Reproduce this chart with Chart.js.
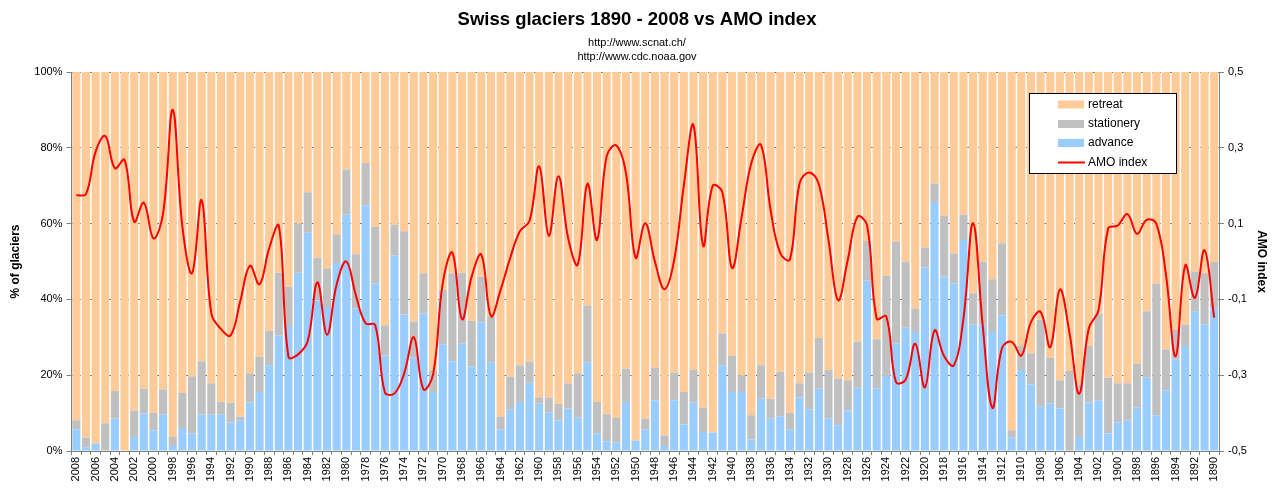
<!DOCTYPE html>
<html>
<head>
<meta charset="utf-8">
<script src="https://cdn.jsdelivr.net/npm/chart.js@4.4.0/dist/chart.umd.min.js"></script>
<style>
html,body{margin:0;padding:0;background:#fff;}
#wrap{width:1274px;height:488px;}
</style>
</head>
<body>
<div id="wrap"><canvas id="c" width="1274" height="488"></canvas></div>
<script>
const years = [2008,2007,2006,2005,2004,2003,2002,2001,2000,1999,1998,1997,1996,1995,1994,1993,1992,1991,1990,1989,
1988,1987,1986,1985,1984,1983,1982,1981,1980,1979,1978,1977,1976,1975,1974,1973,1972,1971,1970,1969,
1968,1967,1966,1965,1964,1963,1962,1961,1960,1959,1958,1957,1956,1955,1954,1953,1952,1951,1950,1949,
1948,1947,1946,1945,1944,1943,1942,1941,1940,1939,1938,1937,1936,1935,1934,1933,1932,1931,1930,1929,
1928,1927,1926,1925,1924,1923,1922,1921,1920,1919,1918,1917,1916,1915,1914,1913,1912,1911,1910,1909,
1908,1907,1906,1905,1904,1903,1902,1901,1900,1899,1898,1897,1896,1895,1894,1893,1892,1891,1890];

const advance = [5.7,1.0,2.0,0.0,8.6,0.0,3.7,9.9,5.5,9.6,1.3,6.1,4.7,9.6,9.6,9.6,7.5,8.1,12.8,15.6,
22.6,30.5,33.0,47.0,57.6,39.7,38.0,49.6,62.4,37.6,64.8,44.2,25.2,51.6,36.0,24.7,36.3,15.6,28.1,23.7,
28.3,22.3,34.0,23.3,5.7,11.0,12.9,18.0,12.5,10.1,8.1,11.2,8.8,23.4,4.6,2.6,2.2,12.9,2.8,5.7,
13.4,1.3,13.4,7.0,12.8,5.0,4.9,22.6,15.6,15.6,3.1,13.8,8.5,9.2,5.7,14.1,11.0,16.4,8.6,6.8,
10.7,16.7,44.9,16.4,19.8,28.4,32.5,31.4,48.4,65.7,46.0,44.2,55.7,33.3,33.3,31.4,35.8,3.5,21.4,17.6,
11.7,12.6,11.2,0.0,3.7,12.8,13.4,4.6,7.5,8.1,11.4,19.3,9.4,16.0,24.2,27.7,36.9,33.4,37.6];

const stationery = [2.4,2.5,0.0,7.3,7.2,0.0,6.9,6.5,4.5,6.6,2.4,9.2,15.0,14.1,8.3,3.4,5.2,1.0,7.7,9.3,
9.1,16.5,10.4,13.0,10.7,11.3,10.2,7.6,11.9,14.3,11.2,15.0,8.0,8.1,22.0,9.5,10.6,5.7,14.4,23.2,
18.7,12.0,12.0,12.2,3.4,8.6,9.7,5.6,1.6,4.0,4.4,6.7,11.7,15.0,8.3,7.1,6.6,8.8,0.0,2.9,
8.6,2.8,7.3,8.6,8.6,6.4,0.0,8.4,9.5,4.4,6.3,8.8,5.3,11.7,4.3,3.8,9.7,13.4,12.8,12.3,
8.0,12.1,10.5,13.1,26.4,26.8,17.4,6.2,5.3,4.9,16.0,7.9,6.7,8.3,16.6,13.9,19.0,2.0,6.3,8.1,
23.0,12.0,7.5,21.1,13.9,14.9,22.8,14.7,10.4,9.8,11.6,17.6,34.8,10.8,7.9,5.7,10.4,13.5,12.3];

const retreat = [91.9,96.5,98.0,92.7,84.2,100,89.4,83.6,90.0,83.8,96.3,84.7,80.3,76.3,82.1,87.0,87.3,90.9,79.5,75.1,
68.3,53.0,56.6,40.0,31.7,49.0,51.8,42.8,25.7,48.1,24.0,40.8,66.8,40.3,42.0,65.8,53.1,78.7,57.5,53.1,
53.0,65.7,54.0,64.5,90.9,80.4,77.4,76.4,85.9,85.9,87.5,82.1,79.5,61.6,87.1,90.3,91.2,78.3,97.2,91.4,
78.0,95.9,79.3,84.4,78.6,88.6,95.1,69.0,74.9,80.0,90.6,77.4,86.2,79.1,90.0,82.1,79.3,70.2,78.6,80.9,
81.3,71.2,44.6,70.5,53.8,44.8,50.1,62.4,46.3,29.4,38.0,47.9,37.6,58.4,50.1,54.7,45.2,94.5,72.3,74.3,
65.3,75.4,81.3,78.9,82.4,72.3,63.8,80.7,82.1,82.1,77.0,63.1,55.8,73.2,67.9,66.6,52.7,53.1,50.1];

const amo = [0.175,0.178,0.29,0.331,0.246,0.268,0.105,0.155,0.061,0.127,0.40,0.092,-0.031,0.162,-0.137,-0.178,-0.195,-0.105,-0.011,-0.06,
0.035,0.094,-0.252,-0.245,-0.21,-0.055,-0.193,-0.06,0.0,-0.09,-0.163,-0.168,-0.345,-0.348,-0.295,-0.2,-0.337,-0.298,-0.057,0.023,
-0.152,-0.04,0.018,-0.144,-0.075,0.01,0.08,0.107,0.251,0.068,0.225,0.062,-0.008,0.205,0.057,0.278,0.306,0.233,0.01,0.101,
0.0,-0.073,0.004,0.2,0.36,0.042,0.2,0.182,-0.017,0.118,0.26,0.308,0.136,0.022,0.005,0.206,0.235,0.204,0.057,-0.102,
0.004,0.118,0.096,-0.151,-0.145,-0.318,-0.312,-0.217,-0.332,-0.182,-0.25,-0.274,-0.15,0.101,-0.17,-0.386,-0.228,-0.212,-0.248,-0.16,
-0.133,-0.226,-0.074,-0.189,-0.349,-0.176,-0.129,0.087,0.095,0.125,0.073,0.11,0.1,-0.035,-0.25,-0.01,-0.096,0.03,-0.148];

const pctTicks = [0,20,40,60,80,100];
const amoTicks = [-0.5,-0.3,-0.1,0.1,0.3,0.5];

const FONT = "'Liberation Sans', Arial, sans-serif";
Chart.defaults.font.family = FONT;
Chart.defaults.color = '#000';

const legendBox = {
  id: 'legendBox',
  afterDraw(chart) {
    const c = chart.ctx;
    const ds = chart.data.datasets;
    const order = ['retreat','stationery','advance','AMO index'];
    c.save();
    const bx = 1029.5, by = 93.5, bw = 147, bh = 80;
    c.fillStyle = '#fff';
    c.fillRect(bx, by, bw, bh);
    c.strokeStyle = '#000';
    c.lineWidth = 1;
    c.strokeRect(bx, by, bw, bh);
    const rows = [104.5, 124, 143, 162.5];
    c.font = '12px ' + FONT;
    c.textBaseline = 'middle';
    c.textAlign = 'left';
    order.forEach((name, i) => {
      const d = ds.find(e => e.label === name);
      const y = rows[i];
      if (d.type === 'line') {
        c.strokeStyle = d.borderColor;
        c.lineWidth = 2;
        c.beginPath();
        c.moveTo(1058, y);
        c.lineTo(1085, y);
        c.stroke();
      } else {
        c.fillStyle = d.backgroundColor;
        c.fillRect(1058, y - 4, 26, 8);
      }
      c.fillStyle = '#000';
      c.fillText(name, 1088, y);
    });
    c.restore();
  }
};

new Chart(document.getElementById('c'), {
  data: {
    labels: years,
    datasets: [
      {type:'line', label:'AMO index', data: amo, yAxisID:'y2', borderColor:'#FF0000', borderWidth:2,
       pointRadius:0, tension:0.4, order:0},
      {type:'bar', label:'advance', data: advance, backgroundColor:'#99CCFF', yAxisID:'y', stack:'s',
       order:1, barPercentage:0.84, categoryPercentage:1, borderWidth:0},
      {type:'bar', label:'stationery', data: stationery, backgroundColor:'#C0C0C0', yAxisID:'y', stack:'s',
       order:1, barPercentage:0.84, categoryPercentage:1, borderWidth:0},
      {type:'bar', label:'retreat', data: retreat, backgroundColor:'#FFCC99', yAxisID:'y', stack:'s',
       order:1, barPercentage:0.84, categoryPercentage:1, borderWidth:0}
    ]
  },
  options: {
    responsive: false,
    animation: false,
    layout: {padding: {left:0, right:0, top:0, bottom:0}},
    plugins: {
      legend: {display:false},
      tooltip: {enabled:false},
      title: {display:true, text:'Swiss glaciers 1890 - 2008 vs AMO index', color:'#000',
        font:{size:18.5, weight:'bold', lineHeight:1.2}, padding:{top:9, bottom:0}},
      subtitle: {display:true, text:['http://www.scnat.ch/','http://www.cdc.noaa.gov'], color:'#000',
        font:{size:11, lineHeight:14/11}, padding:{top:4.8, bottom:8}}
    },
    scales: {
      x: {
        stacked: true,
        offset: true,
        grid: {offset:true, drawOnChartArea:false, tickLength:4, color:'#808080'},
        border: {color:'#808080'},
        ticks: {autoSkip:false, maxRotation:90, minRotation:90, padding:2, color:'#000', font:{size:11},
          callback: function(v, i) { return i % 2 === 0 ? String(this.getLabelForValue(v)) : ''; }},
        afterFit(s) { s.height = 37; }
      },
      y: {
        stacked: true, position:'left', min:0, max:100, z:1,
        afterBuildTicks(s) { s.ticks = pctTicks.map(v => ({value:v})); },
        ticks: {color:'#000', font:{size:11}, padding:4, callback: v => v + '%'},
        grid: {color:'#707070', tickLength:5, tickColor:'#808080'},
        border: {color:'#808080', dash:[3,3]},
        title: {display:true, text:'% of glaciers', color:'#000', font:{size:12, weight:'bold'}, padding:{top:8, bottom:0}},
        afterFit(s) { s.width = 71.5; }
      },
      y2: {
        position:'right', min:-0.5, max:0.5,
        afterBuildTicks(s) { s.ticks = amoTicks.map(v => ({value:v})); },
        ticks: {color:'#000', font:{size:11}, padding:4, callback: v => v.toFixed(1).replace('.', ',')},
        grid: {drawOnChartArea:false, tickLength:5, color:'#808080'},
        border: {color:'#808080'},
        title: {display:true, text:'AMO index', color:'#000', font:{size:12, weight:'bold'}, padding:{top:5, bottom:0}},
        afterFit(s) { s.width = 55; }
      }
    }
  },
  plugins: [legendBox]
});
</script>
</body>
</html>
